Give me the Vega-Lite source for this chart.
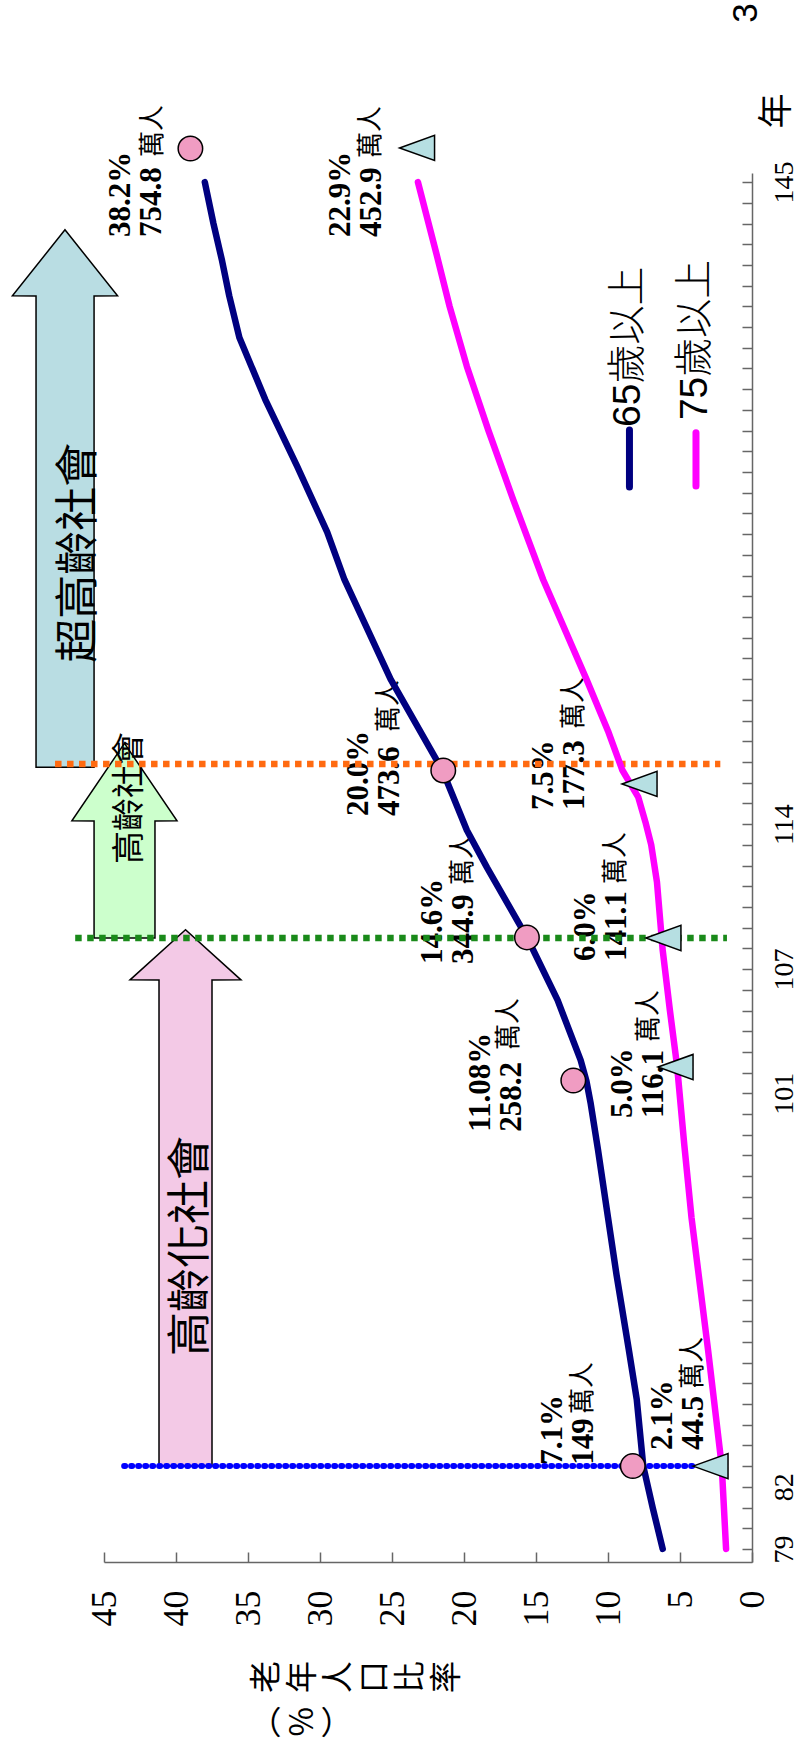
{
  "$schema": "https://vega.github.io/schema/vega-lite/v6.json",
  "width": 648,
  "height": 1389,
  "autosize": {"type": "none"},
  "padding": {"left": 104, "top": 173, "right": 46, "bottom": 188},
  "background": "white",
  "config": {"view": {"stroke": null}},
  "datasets": {
    "lines": [
      {"series": "65歲以上", "year": 79, "pct": 6.2},
      {"series": "65歲以上", "year": 81, "pct": 6.9},
      {"series": "65歲以上", "year": 83, "pct": 7.55},
      {"series": "65歲以上", "year": 86.2, "pct": 8.0},
      {"series": "65歲以上", "year": 88.6, "pct": 8.55},
      {"series": "65歲以上", "year": 92.2, "pct": 9.4},
      {"series": "65歲以上", "year": 95, "pct": 10.0},
      {"series": "65歲以上", "year": 98.3, "pct": 10.7},
      {"series": "65歲以上", "year": 100.5, "pct": 11.2},
      {"series": "65歲以上", "year": 101.6, "pct": 11.5},
      {"series": "65歲以上", "year": 102.6, "pct": 11.9},
      {"series": "65歲以上", "year": 105.5, "pct": 13.5},
      {"series": "65歲以上", "year": 108.5, "pct": 15.6},
      {"series": "65歲以上", "year": 111.9, "pct": 18.4},
      {"series": "65歲以上", "year": 113.7, "pct": 19.8},
      {"series": "65歲以上", "year": 116.6, "pct": 21.5},
      {"series": "65歲以上", "year": 121, "pct": 25.1},
      {"series": "65歲以上", "year": 125.8, "pct": 28.3},
      {"series": "65歲以上", "year": 128.1, "pct": 29.5},
      {"series": "65歲以上", "year": 131.3, "pct": 31.6},
      {"series": "65歲以上", "year": 134.5, "pct": 33.8},
      {"series": "65歲以上", "year": 137.5, "pct": 35.6},
      {"series": "65歲以上", "year": 139.5, "pct": 36.3},
      {"series": "65歲以上", "year": 141.2, "pct": 36.8},
      {"series": "65歲以上", "year": 143, "pct": 37.4},
      {"series": "65歲以上", "year": 145, "pct": 38.0},
      {"series": "75歲以上", "year": 79, "pct": 1.8},
      {"series": "75歲以上", "year": 83, "pct": 2.1},
      {"series": "75歲以上", "year": 88.6, "pct": 3.05},
      {"series": "75歲以上", "year": 95, "pct": 4.2},
      {"series": "75歲以上", "year": 98.5, "pct": 4.7},
      {"series": "75歲以上", "year": 102.3, "pct": 5.2},
      {"series": "75歲以上", "year": 105, "pct": 5.7},
      {"series": "75歲以上", "year": 107.9, "pct": 6.2},
      {"series": "75歲以上", "year": 111.2, "pct": 6.6},
      {"series": "75歲以上", "year": 113, "pct": 7.0},
      {"series": "75歲以上", "year": 114.1, "pct": 7.4},
      {"series": "75歲以上", "year": 115.3, "pct": 7.9},
      {"series": "75歲以上", "year": 116.6, "pct": 9.0},
      {"series": "75歲以上", "year": 118.5, "pct": 10.0},
      {"series": "75歲以上", "year": 121, "pct": 11.5},
      {"series": "75歲以上", "year": 125.8, "pct": 14.5},
      {"series": "75歲以上", "year": 129.7, "pct": 16.6},
      {"series": "75歲以上", "year": 133, "pct": 18.3},
      {"series": "75歲以上", "year": 136.1, "pct": 19.8},
      {"series": "75歲以上", "year": 139, "pct": 21.0},
      {"series": "75歲以上", "year": 141.5, "pct": 21.9},
      {"series": "75歲以上", "year": 145, "pct": 23.2}
    ],
    "markers": [
      {"series": "65歲以上", "year": 83.0, "pct": 8.28},
      {"series": "65歲以上", "year": 101.62, "pct": 12.41},
      {"series": "65歲以上", "year": 108.53, "pct": 15.63},
      {"series": "65歲以上", "year": 116.59, "pct": 21.44},
      {"series": "65歲以上", "year": 146.62, "pct": 39.0},
      {"series": "75歲以上", "year": 83.0, "pct": 2.88},
      {"series": "75歲以上", "year": 102.27, "pct": 5.31},
      {"series": "75歲以上", "year": 108.5, "pct": 6.15},
      {"series": "75歲以上", "year": 115.94, "pct": 7.81},
      {"series": "75歲以上", "year": 146.65, "pct": 23.26}
    ],
    "refs": [
      {"stage": "高齡化社會", "year": 83.0, "pct": 43.6, "pct2": 4.1},
      {"stage": "高齡社會", "year": 108.5, "pct": 47.0, "pct2": 1.74},
      {"stage": "超高齡社會", "year": 116.9, "pct": 48.4, "pct2": 2.2}
    ],
    "arrows": [
      {"stage": "高齡化社會", "year": 83.0, "pct": 41.18, "pct2": 37.5},
      {"stage": "高齡化社會", "year": 106.47, "pct": 41.18, "pct2": 37.5},
      {"stage": "高齡化社會", "year": 106.48, "pct": 43.19, "pct2": 35.49},
      {"stage": "高齡化社會", "year": 108.9, "pct": 39.34, "pct2": 39.34},
      {"stage": "高齡社會", "year": 108.5, "pct": 45.69, "pct2": 41.46},
      {"stage": "高齡社會", "year": 114.15, "pct": 45.69, "pct2": 41.46},
      {"stage": "高齡社會", "year": 114.16, "pct": 47.23, "pct2": 39.93},
      {"stage": "高齡社會", "year": 117.9, "pct": 43.58, "pct2": 43.58},
      {"stage": "超高齡社會", "year": 116.75, "pct": 49.72, "pct2": 45.69},
      {"stage": "超高齡社會", "year": 139.5, "pct": 49.72, "pct2": 45.69},
      {"stage": "超高齡社會", "year": 139.51, "pct": 51.36, "pct2": 44.06},
      {"stage": "超高齡社會", "year": 142.7, "pct": 47.71, "pct2": 47.71}
    ],
    "arrowText": [
      {"stage": "高齡化社會", "year": 93.63, "pct": 38.9},
      {"stage": "高齡社會", "year": 115.26, "pct": 43.2},
      {"stage": "超高齡社會", "year": 127.1, "pct": 46.67}
    ],
    "annot": [
      {"label": "38.2%\n754.8", "pct": 44.86, "year": 142.35},
      {"label": "22.9%\n452.9", "pct": 29.58, "year": 142.35},
      {"label": "20.0%\n473.6", "pct": 28.33, "year": 114.39},
      {"label": "7.5%\n177.3", "pct": 15.49, "year": 114.68},
      {"label": "14.6%\n344.9", "pct": 23.19, "year": 107.25},
      {"label": "6.0%\n141.1", "pct": 12.57, "year": 107.39},
      {"label": "11.08%\n258.2", "pct": 19.86, "year": 99.14},
      {"label": "5.0%\n116.1", "pct": 10.0, "year": 99.81},
      {"label": "7.1%\n149", "pct": 14.86, "year": 83.06},
      {"label": "2.1%\n44.5", "pct": 7.22, "year": 83.78}
    ],
    "wan": [
      {"label": "萬人", "pct": 42.5, "year": 146.21},
      {"label": "萬人", "pct": 27.36, "year": 146.16},
      {"label": "萬人", "pct": 26.11, "year": 118.45},
      {"label": "萬人", "pct": 13.26, "year": 118.59},
      {"label": "萬人", "pct": 20.97, "year": 111.06},
      {"label": "萬人", "pct": 10.35, "year": 111.11},
      {"label": "萬人", "pct": 17.78, "year": 103.09},
      {"label": "萬人", "pct": 8.06, "year": 103.48},
      {"label": "萬人", "pct": 12.64, "year": 85.52},
      {"label": "萬人", "pct": 5.0, "year": 86.73}
    ],
    "legsym": [
      {"series": "65歲以上", "pct": 8.51, "year": 130.28, "year2": 133.03},
      {"series": "75歲以上", "pct": 3.89, "year": 130.33, "year2": 132.9}
    ],
    "legtext": [
      {"series": "65歲以上", "pct": 8.61, "year": 133.18},
      {"series": "75歲以上", "pct": 3.96, "year": 133.51}
    ],
    "misc": [
      {"label": "年", "pct": -1.77, "year": 148.43},
      {"label": "3", "pct": 0.42, "year": 153.17}
    ],
    "ytitle": [
      {"label": "老\n年\n人\n口\n比\n率", "pct": 34.72, "year": 72.82},
      {"label": "︵\n%\n︶", "pct": 34.72, "year": 70.65}
    ]
  },
  "encoding": {
    "y": {
      "field": "year", "type": "quantitative", "title": null,
      "scale": {"domain": [78.37, 145.44], "nice": false, "zero": false},
      "axis": {
        "orient": "right", "title": null, "grid": false, "tickCount": 67,
        "labelExpr": "indexof([79,82,101,107,114,145], datum.value) >= 0 ? datum.label : ''",
        "labelAngle": 270, "labelAlign": "center", "labelBaseline": "top",
        "labelFont": "Liberation Serif", "labelFontSize": 28, "labelColor": "black",
        "labelPadding": 28, "tickSize": -10, "tickColor": "#666", "tickWidth": 1.5,
        "domainColor": "#666", "domainWidth": 1.5,
        "labelOverlap": false, "labelFlush": false, "labelBound": false
      }
    },
    "x": {
      "field": "pct", "type": "quantitative", "stack": null, "title": null,
      "scale": {"domain": [0, 45], "reverse": true, "nice": false, "zero": false},
      "axis": {
        "orient": "bottom", "title": null, "grid": false,
        "values": [0, 5, 10, 15, 20, 25, 30, 35, 40, 45],
        "labelAngle": 270, "labelAlign": "right", "labelBaseline": "middle",
        "labelFont": "Liberation Serif", "labelFontSize": 36, "labelColor": "black",
        "labelPadding": 38, "tickSize": -10, "tickColor": "#666", "tickWidth": 1.5,
        "domainColor": "#666", "domainWidth": 1.5,
        "labelOverlap": false, "labelFlush": false, "labelBound": false
      }
    }
  },
  "layer": [
    {
      "data": {"name": "arrows"},
      "mark": {"type": "area", "orient": "horizontal", "stroke": "black", "strokeWidth": 1.5, "opacity": 1, "interpolate": "linear"},
      "encoding": {
        "x2": {"field": "pct2"},
        "color": {
          "field": "stage", "type": "nominal", "legend": null,
          "scale": {"domain": ["高齡化社會", "高齡社會", "超高齡社會"], "range": ["#F3C9E6", "#CCFFCC", "#B9DDE3"]}
        }
      }
    },
    {
      "data": {"name": "arrowText"},
      "transform": [{"filter": "datum.stage !== '高齡社會'"}],
      "mark": {"type": "text", "angle": 270, "font": "Noto Sans CJK TC", "fontSize": 44, "align": "center", "baseline": "middle", "color": "black"},
      "encoding": {"text": {"field": "stage"}}
    },
    {
      "data": {"name": "arrowText"},
      "transform": [{"filter": "datum.stage === '高齡社會'"}],
      "mark": {"type": "text", "angle": 270, "font": "Noto Sans CJK TC", "fontSize": 33, "align": "center", "baseline": "middle", "color": "black"},
      "encoding": {"text": {"field": "stage"}}
    },
    {
      "data": {"name": "annot"},
      "mark": {"type": "text", "angle": 270, "font": "Liberation Serif", "fontWeight": "bold", "fontSize": 31, "lineHeight": 31, "lineBreak": "\n", "align": "left", "baseline": "top", "color": "black"},
      "encoding": {"text": {"field": "label"}}
    },
    {
      "data": {"name": "wan"},
      "mark": {"type": "text", "angle": 270, "font": "Noto Sans CJK TC", "fontSize": 26, "align": "left", "baseline": "top", "color": "black"},
      "encoding": {"text": {"field": "label"}}
    },
    {
      "data": {"name": "legsym"},
      "mark": {"type": "rule", "strokeWidth": 7, "strokeCap": "round"},
      "encoding": {
        "y2": {"field": "year2"},
        "color": {"field": "series", "type": "nominal", "legend": null, "scale": {"domain": ["65歲以上", "75歲以上"], "range": ["#000080", "#FF00FF"]}}
      }
    },
    {
      "data": {"name": "legtext"},
      "mark": {"type": "text", "angle": 270, "font": "Liberation Sans, Noto Sans CJK TC", "fontSize": 39, "fontWeight": 300, "align": "left", "baseline": "middle", "color": "black"},
      "encoding": {"text": {"field": "series"}}
    },
    {
      "data": {"name": "misc"},
      "mark": {"type": "text", "angle": 270, "font": "Liberation Sans, Noto Sans CJK TC", "fontSize": 35, "align": "center", "baseline": "middle", "color": "black"},
      "encoding": {"text": {"field": "label"}}
    },
    {
      "data": {"name": "ytitle"},
      "mark": {"type": "text", "angle": 270, "font": "Noto Sans CJK TC", "fontSize": 32, "lineHeight": 36, "lineBreak": "\n", "align": "center", "baseline": "top", "color": "black"},
      "encoding": {"text": {"field": "label"}}
    },
    {
      "data": {"name": "refs"},
      "transform": [{"filter": "datum.stage === '高齡化社會'"}],
      "mark": {"type": "rule", "color": "#0000FF", "strokeWidth": 6, "strokeDash": [1, 6], "strokeCap": "round"},
      "encoding": {"x2": {"field": "pct2"}}
    },
    {
      "data": {"name": "refs"},
      "transform": [{"filter": "datum.stage !== '高齡化社會'"}],
      "mark": {"type": "rule", "strokeWidth": 6.5, "strokeDash": [6.5, 5.5]},
      "encoding": {
        "x2": {"field": "pct2"},
        "color": {"field": "stage", "type": "nominal", "legend": null, "scale": {"domain": ["高齡社會", "超高齡社會"], "range": ["#1A8A1A", "#FF6A10"]}}
      }
    },
    {
      "data": {"name": "lines"},
      "mark": {"type": "line", "strokeWidth": 6.5, "strokeCap": "round", "strokeJoin": "round", "orient": "horizontal"},
      "encoding": {
        "color": {"field": "series", "type": "nominal", "legend": null, "scale": {"domain": ["65歲以上", "75歲以上"], "range": ["#000080", "#FF00FF"]}}
      }
    },
    {
      "data": {"name": "markers"},
      "mark": {"type": "point", "filled": true, "stroke": "black", "strokeWidth": 1.5, "opacity": 1},
      "encoding": {
        "shape": {"field": "series", "type": "nominal", "legend": null, "scale": {"domain": ["65歲以上", "75歲以上"], "range": ["circle", "M-1,0L1,-0.72L1,0.72Z"]}},
        "fill": {"field": "series", "type": "nominal", "legend": null, "scale": {"domain": ["65歲以上", "75歲以上"], "range": ["#F09CC2", "#B6DFE2"]}},
        "size": {"field": "series", "type": "nominal", "legend": null, "scale": {"domain": ["65歲以上", "75歲以上"], "range": [600, 1225]}}
      }
    }
  ],
  "resolve": {"scale": {"color": "independent", "size": "independent"}}
}
